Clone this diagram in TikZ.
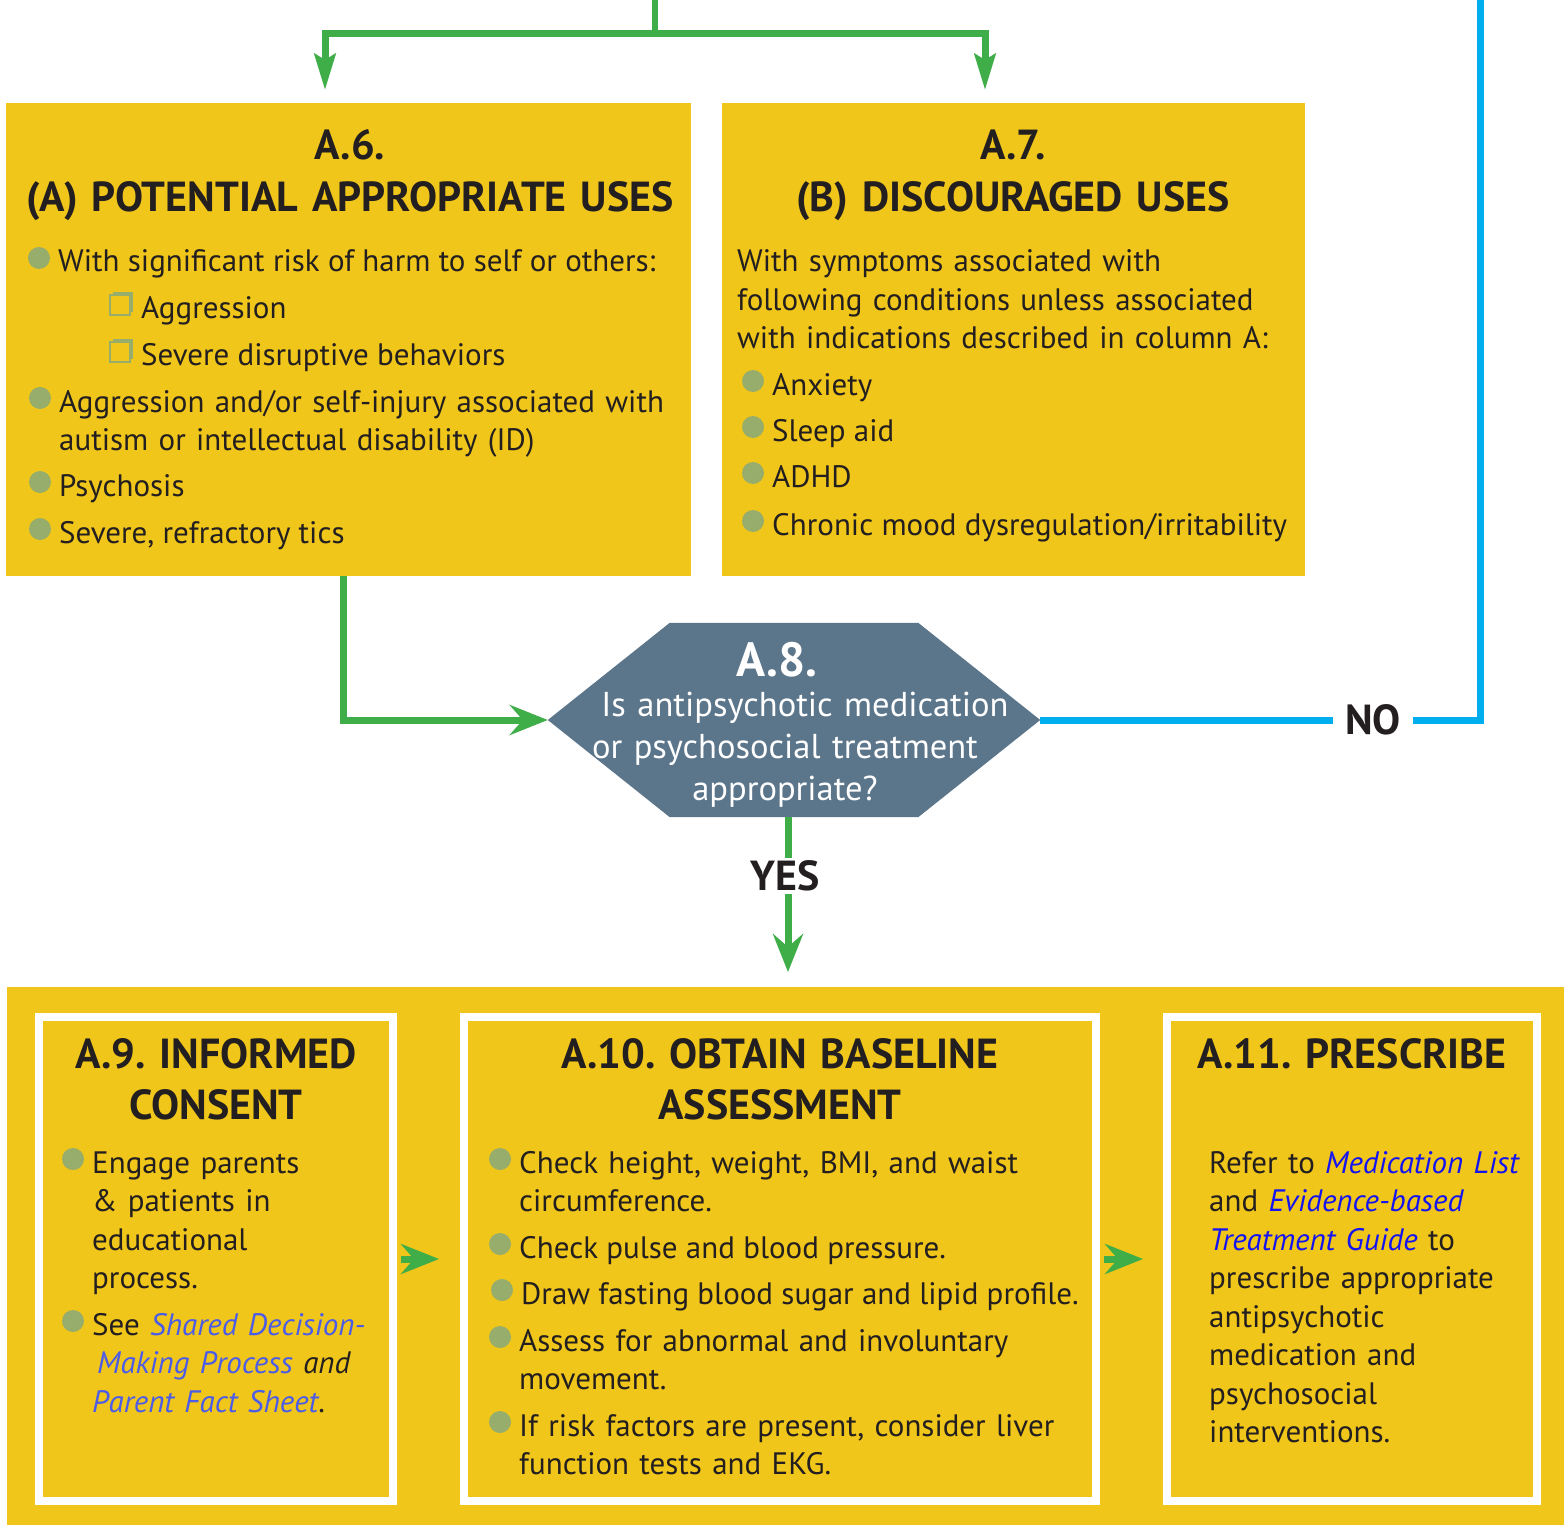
\documentclass[tikz,border=0pt]{standalone}
\usepackage{fontspec}
\setmainfont{PT Sans}
\usetikzlibrary{arrows.meta,calc}
\frenchspacing

\definecolor{boxyellow}{HTML}{F1C61A}
\definecolor{arrowgreen}{HTML}{3FAE49}
\definecolor{dotgreen}{HTML}{96AD6C}
\definecolor{noblue}{HTML}{00AEEF}
\definecolor{slate}{HTML}{5B758B}
\definecolor{inkdark}{HTML}{231F20}
\definecolor{linkblue}{HTML}{4B5CE8}
\definecolor{linkdeep}{HTML}{1414F0}

\newcommand{\lnk}[1]{\textcolor{linkblue}{\itshape #1}}
\newcommand{\lnkd}[1]{\textcolor{linkdeep}{\itshape #1}}
\newcommand{\bul}[1]{\fill[dotgreen] ([shift={(-19,-14)}]#1.base west) circle (11);}
\newcommand{\chk}[1]{\fill[dotgreen] ([shift={(-28,-26)}]#1.base west) rectangle ([shift={(-8,-6)}]#1.base west);
  \filldraw[fill=boxyellow,draw=dotgreen,line width=1.2] ([shift={(-31,-23)}]#1.base west) rectangle ([shift={(-11,-3)}]#1.base west);}

\tikzset{
  usebox/.style={fill=boxyellow, inner sep=0pt},
  whiteframe/.style={fill=boxyellow, draw=white, line width=8pt, inner sep=0pt, minimum height=484pt},
  boxhead/.style={font=\bfseries\fontsize{42}{51.5}\selectfont, text=inkdark, align=center, text width=720pt, inner sep=0pt, anchor=base},
  itemtext/.style={font=\fontsize{31}{38.5}\selectfont, text=inkdark, align=left, inner sep=0pt, anchor=base west},
  hexspot/.style={minimum width=492pt, minimum height=194pt, inner sep=0pt},
  answer/.style={font=\bfseries\fontsize{42}{48}\selectfont, text=inkdark, inner sep=0pt},
  garrow/.style={draw=arrowgreen, line width=7pt, -{Stealth[length=38pt,width=30pt,inset=13pt]}},
  forkarrow/.style={draw=arrowgreen, line width=7pt, -{Stealth[length=36pt,width=21pt,inset=6pt]}},
  noline/.style={draw=noblue, line width=7pt}
}

\begin{document}
\begin{tikzpicture}[x=1pt,y=-1pt]
\useasboundingbox (0,0) rectangle (1564,1525);
\fill[white] (0,0) rectangle (1564,1525);

% upper row
\node[usebox, minimum width=685pt, minimum height=473pt] (a6) at (348.5,339.5) {};
\node[usebox, minimum width=583pt, minimum height=473pt] (a7) at (1013.5,339.5) {};

\node[boxhead] (a6t) at (350,160) {A.6.\\(A) POTENTIAL APPROPRIATE USES};
\node[itemtext] (a6i1) at (58,272) {With significant risk of harm to self or others:};
\node[itemtext] (a6s1) at (141,318) {Aggression};
\node[itemtext] (a6s2) at (141,365) {Severe disruptive behaviors};
\node[itemtext, text width=640pt] (a6i2) at (59,412) {Aggression and/or self-injury associated with\\autism or intellectual disability (ID)};
\node[itemtext] (a6i3) at (59,496) {Psychosis};
\node[itemtext] (a6i4) at (59,543) {Severe, refractory tics};
\bul{a6i1} \bul{a6i2} \bul{a6i3} \bul{a6i4}
\chk{a6s1} \chk{a6s2}

\node[boxhead] (a7t) at (1013,160) {A.7.\\(B) DISCOURAGED USES};
\node[itemtext, text width=560pt] (a7p) at (737,272) {With symptoms associated with\\following conditions unless associated\\with indications described in column A:};
\node[itemtext] (a7i1) at (772,395) {Anxiety};
\node[itemtext] (a7i2) at (772,441) {Sleep aid};
\node[itemtext] (a7i3) at (772,487) {ADHD};
\node[itemtext] (a7i4) at (772,535) {Chronic mood dysregulation/irritability};
\bul{a7i1} \bul{a7i2} \bul{a7i3} \bul{a7i4}

% decision
\node[hexspot] (q) at (794,720) {};
\fill[slate] (q.west) -- ($(q.north west)+(122,0)$) -- ($(q.north east)+(-122,0)$) -- (q.east)
  -- ($(q.south east)+(-122,0)$) -- ($(q.south west)+(122,0)$) -- cycle;
\node[font=\bfseries\fontsize{48}{52}\selectfont, text=white, inner sep=0pt, anchor=base] (qhead) at (777,676) {A.8.};
\node[font=\fontsize{34.5}{42}\selectfont, text=white, align=center, text width=480pt, inner sep=0pt, anchor=base] (qbody) at (785,716)
  {\hspace*{40pt}Is antipsychotic medication\\or psychosocial treatment\\appropriate?};

% lower row
\node[usebox, minimum width=1557pt, minimum height=538pt] (panel) at (785.5,1256) {};
\node[whiteframe, minimum width=354pt] (a9) at (216,1259) {};
\node[whiteframe, minimum width=632pt] (a10) at (780,1259) {};
\node[whiteframe, minimum width=370pt] (a11) at (1352,1259) {};

\node[boxhead] (a9t) at (216,1068) {A.9. INFORMED\\CONSENT};
\node[itemtext, text width=290pt] (a9i1) at (92,1173) {Engage parents\\\& patients in\\educational\\process.};
\node[itemtext, text width=290pt] (a9i2) at (92,1335) {See \lnk{Shared Decision-}\\\hspace*{5pt}\lnk{Making Process} \textit{and}\\\lnk{Parent Fact Sheet}.};
\bul{a9i1} \bul{a9i2}

\node[boxhead] (a10t) at (780,1068) {A.10. OBTAIN BASELINE\\ASSESSMENT};
\node[itemtext, text width=570pt] (a10i1) at (519,1173) {Check height, weight, BMI, and waist\\circumference.};
\node[itemtext] (a10i2) at (519,1258) {Check pulse and blood pressure.};
\node[itemtext] (a10i3) at (521,1304) {Draw fasting blood sugar and lipid profile.};
\node[itemtext, text width=570pt] (a10i4) at (519,1351) {Assess for abnormal and involuntary\\movement.};
\node[itemtext, text width=570pt] (a10i5) at (519,1436) {If risk factors are present, consider liver\\function tests and EKG.};
\bul{a10i1} \bul{a10i2} \bul{a10i3} \bul{a10i4} \bul{a10i5}

\node[boxhead] (a11t) at (1352,1068) {A.11. PRESCRIBE};
\node[itemtext, text width=320pt] (a11p) at (1209,1173) {Refer to \lnkd{Medication List}\\and \lnkd{Evidence-based}\\\lnkd{Treatment Guide} to\\prescribe appropriate\\antipsychotic\\medication and\\psychosocial\\interventions.};

% connectors
\coordinate (src) at (655,0);
\coordinate (fork) at (655,34);
\coordinate (a6in) at (325,90);
\coordinate (a7in) at (985,90);
\draw[arrowgreen, line width=6pt] (src) -- (fork);
\draw[forkarrow] (fork) -| (a6in);
\draw[forkarrow] (fork) -| (a7in);

\draw[garrow] ([xshift=-5pt]a6.south) |- (q.west);

\node[answer] (no) at (1373,720) {NO};
\coordinate (nocorner) at (1480,720);
\coordinate (notop) at (1480,0);
\draw[noline] (q.east) -- ([xshift=-12pt]no.west |- q.east);
\draw[noline] ([xshift=12pt]no.east |- q.east) -- (nocorner) -- (notop);

\node[answer, inner ysep=3pt] (yes) at (785,876) {YES};
\coordinate (yesend) at (788,972);
\draw[arrowgreen, line width=7pt] (q.south -| yesend) -- (yes.north -| yesend);
\draw[garrow] (yes.south -| yesend) -- (yesend);

\draw[garrow, shorten <=4pt, shorten >=21pt] (a9.east) -- (a10.west);
\draw[garrow, shorten <=4pt, shorten >=20pt] (a10.east) -- (a11.west);
\end{tikzpicture}
\end{document}
